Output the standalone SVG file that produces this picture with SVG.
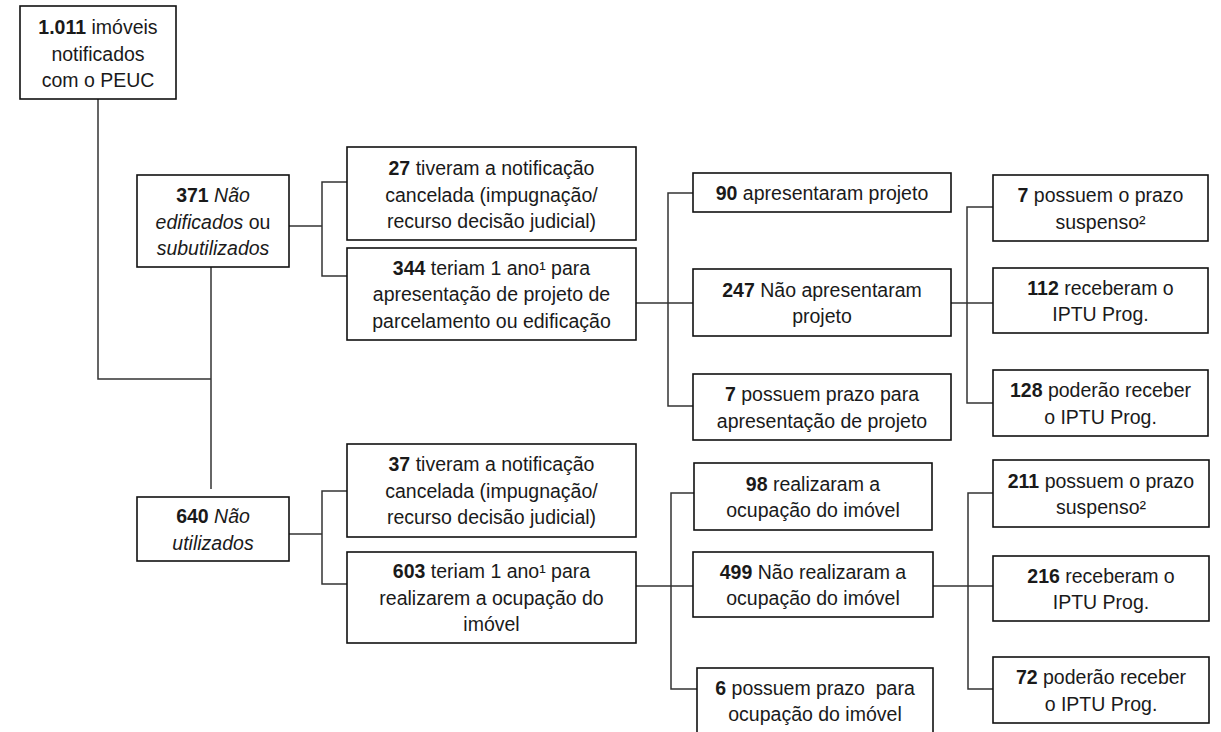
<svg xmlns="http://www.w3.org/2000/svg" width="1221" height="732" viewBox="0 0 1221 732">
<style>
.box{fill:#fff;stroke:#111;stroke-width:1.6}
.con{fill:none;stroke:#333;stroke-width:1.5}
text{font-family:"Liberation Sans",Arial,sans-serif;font-size:19.5px;fill:#1a1a1a;text-anchor:middle}
.b{font-weight:bold}
.i{font-style:italic}
.pre{white-space:pre}
</style>
<rect width="1221" height="732" fill="#fff"/>
<g id="connectors">
<path class="con" d="M98 99 V379 H211"/>
<path class="con" d="M211 267 V489"/>
<path class="con" d="M289 226 H322"/>
<path class="con" d="M347 182 H322 V276 H347"/>
<path class="con" d="M636 303 H693"/>
<path class="con" d="M693 193 H668 V406 H693"/>
<path class="con" d="M951 303 H993"/>
<path class="con" d="M993 207 H967 V403 H993"/>
<path class="con" d="M289 534 H322"/>
<path class="con" d="M347 491 H322 V584 H347"/>
<path class="con" d="M636 586 H693"/>
<path class="con" d="M694 493 H671 V689 H697"/>
<path class="con" d="M933 586 H993"/>
<path class="con" d="M993 493 H968 V689 H993"/>
</g>
<g id="n1011">
<rect class="box" x="20" y="6" width="156" height="93"/>
<text x="98" y="34"><tspan class="b">1.011</tspan> imóveis</text>
<text x="98" y="60.5">notificados</text>
<text x="98" y="87">com o PEUC</text>
</g>
<g id="n371">
<rect class="box" x="137" y="175" width="152" height="92"/>
<text x="213" y="202"><tspan class="b">371</tspan> <tspan class="i">Não</tspan></text>
<text x="213" y="228.5"><tspan class="i">edificados</tspan> ou</text>
<text x="213" y="255" class="i">subutilizados</text>
</g>
<g id="n27">
<rect class="box" x="347" y="147" width="289" height="93"/>
<text x="491.5" y="175"><tspan class="b">27</tspan> tiveram a notificação</text>
<text x="491.5" y="201.5">cancelada (impugnação/</text>
<text x="491.5" y="228">recurso decisão judicial)</text>
</g>
<g id="n344">
<rect class="box" x="347" y="248" width="289" height="92"/>
<text x="491.5" y="274.5"><tspan class="b">344</tspan> teriam 1 ano¹ para</text>
<text x="491.5" y="301">apresentação de projeto de</text>
<text x="491.5" y="327.5">parcelamento ou edificação</text>
</g>
<g id="n90">
<rect class="box" x="693" y="173" width="258" height="39"/>
<text x="822" y="199.5"><tspan class="b">90</tspan> apresentaram projeto</text>
</g>
<g id="n247">
<rect class="box" x="693" y="269" width="258" height="67"/>
<text x="822" y="296.5"><tspan class="b">247</tspan> Não apresentaram</text>
<text x="822" y="323">projeto</text>
</g>
<g id="n7a">
<rect class="box" x="693" y="374" width="258" height="66"/>
<text x="822" y="401"><tspan class="b">7</tspan> possuem prazo para</text>
<text x="822" y="427.5">apresentação de projeto</text>
</g>
<g id="n7s">
<rect class="box" x="993" y="175" width="215" height="66"/>
<text x="1100.5" y="202"><tspan class="b">7</tspan> possuem o prazo</text>
<text x="1100.5" y="228.5">suspenso²</text>
</g>
<g id="n112">
<rect class="box" x="993" y="268" width="215" height="65"/>
<text x="1100.5" y="294.5"><tspan class="b">112</tspan> receberam o</text>
<text x="1100.5" y="321">IPTU Prog.</text>
</g>
<g id="n128">
<rect class="box" x="993" y="370" width="215" height="66"/>
<text x="1100.5" y="397"><tspan class="b">128</tspan> poderão receber</text>
<text x="1100.5" y="423.5">o IPTU Prog.</text>
</g>
<g id="n640">
<rect class="box" x="137" y="497" width="152" height="64"/>
<text x="213" y="523"><tspan class="b">640</tspan> <tspan class="i">Não</tspan></text>
<text x="213" y="549.5" class="i">utilizados</text>
</g>
<g id="n37">
<rect class="box" x="347" y="444" width="289" height="93"/>
<text x="491.5" y="471"><tspan class="b">37</tspan> tiveram a notificação</text>
<text x="491.5" y="497.5">cancelada (impugnação/</text>
<text x="491.5" y="524">recurso decisão judicial)</text>
</g>
<g id="n603">
<rect class="box" x="347" y="552" width="289" height="91"/>
<text x="491.5" y="578"><tspan class="b">603</tspan> teriam 1 ano¹ para</text>
<text x="491.5" y="604.5">realizarem a ocupação do</text>
<text x="491.5" y="631">imóvel</text>
</g>
<g id="n98">
<rect class="box" x="694" y="463" width="238" height="67"/>
<text x="813" y="490.5"><tspan class="b">98</tspan> realizaram a</text>
<text x="813" y="517">ocupação do imóvel</text>
</g>
<g id="n499">
<rect class="box" x="693" y="552" width="240" height="65"/>
<text x="813" y="578.5"><tspan class="b">499</tspan> Não realizaram a</text>
<text x="813" y="605">ocupação do imóvel</text>
</g>
<g id="n6">
<rect class="box" x="697" y="668" width="236" height="72"/>
<text x="815" y="695" class="pre" xml:space="preserve"><tspan class="b">6</tspan> possuem prazo  para</text>
<text x="815" y="721">ocupação do imóvel</text>
</g>
<g id="n211">
<rect class="box" x="993" y="460" width="216" height="67"/>
<text x="1101" y="487.5"><tspan class="b">211</tspan> possuem o prazo</text>
<text x="1101" y="514">suspenso²</text>
</g>
<g id="n216">
<rect class="box" x="993" y="556" width="216" height="65"/>
<text x="1101" y="582.5"><tspan class="b">216</tspan> receberam o</text>
<text x="1101" y="609">IPTU Prog.</text>
</g>
<g id="n72">
<rect class="box" x="993" y="657" width="216" height="66"/>
<text x="1101" y="684"><tspan class="b">72</tspan> poderão receber</text>
<text x="1101" y="710.5">o IPTU Prog.</text>
</g>
</svg>
